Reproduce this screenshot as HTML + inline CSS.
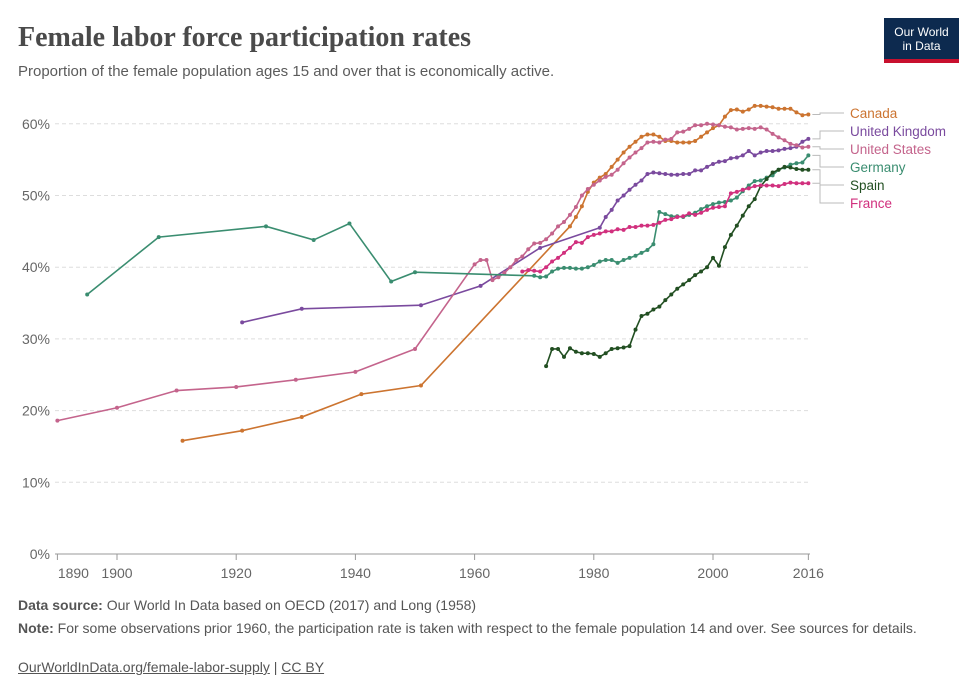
<!DOCTYPE html>
<html><head><meta charset="utf-8"><style>
body{margin:0;background:#fff;font-family:"Liberation Sans",sans-serif;}
#wrap{position:relative;width:980px;height:700px;overflow:hidden;}
.t{position:absolute;white-space:nowrap;}
</style></head><body>
<div id="wrap">
<div class="t" style="left:18px;top:22px;font-family:'Liberation Serif',serif;font-weight:bold;font-size:28px;color:#4a4a4a;">Female labor force participation rates</div>
<div class="t" style="left:18px;top:63px;font-size:15px;color:#5b5b5b;">Proportion of the female population ages 15 and over that is economically active.</div>
<div style="position:absolute;left:884px;top:18px;width:75px;height:45px;background:#0d2a4f;border-bottom:4px solid #c8102e;box-sizing:border-box;color:#fff;font-size:12px;line-height:14px;text-align:center;padding-top:7px;">Our World<br>in Data</div>
<svg id="chart" width="980" height="700" style="position:absolute;left:0;top:0;"></svg>
<div class="t" style="left:18px;top:597px;font-size:14px;color:#555;"><b>Data source:</b> Our World In Data based on OECD (2017) and Long (1958)</div>
<div class="t" style="left:18px;top:619px;font-size:14px;color:#555;white-space:normal;width:915px;line-height:19px;"><b>Note:</b> For some observations prior 1960, the participation rate is taken with respect to the female population 14 and over. See sources for details.</div>
<div class="t" style="left:18px;top:659px;font-size:14px;color:#555;"><u>OurWorldInData.org/female-labor-supply</u> | <u>CC BY</u></div>
</div>
<script>
const yTicks=[0,10,20,30,40,50,60];
const xTicks=[1890,1900,1920,1940,1960,1980,2000,2016];
const seriesNames=["Canada","United Kingdom","United States","Germany","Spain","France"];
const seriesColors=["#cc7430","#7a4a9e","#c4648c","#3a8d70","#224f22","#d1307e"];
const canadaYears=[1911,1921,1931,1941,1951,1976,1977,1978,1979,1980,1981,1982,1983,1984,1985,1986,1987,1988,1989,1990,1991,1992,1993,1994,1995,1996,1997,1998,1999,2000,2001,2002,2003,2004,2005,2006,2007,2008,2009,2010,2011,2012,2013,2014,2015,2016];
const canadaValues=[15.8,17.2,19.1,22.3,23.5,45.7,47,48.5,50.5,51.8,52.5,53,54,55,56,56.8,57.5,58.2,58.5,58.5,58.2,57.6,57.6,57.4,57.4,57.4,57.6,58.2,58.8,59.4,59.8,61,61.9,62,61.7,62,62.5,62.5,62.4,62.3,62.1,62.1,62.1,61.6,61.2,61.3];
const ukYears=[1921,1931,1951,1961,1971,1981,1982,1983,1984,1985,1986,1987,1988,1989,1990,1991,1992,1993,1994,1995,1996,1997,1998,1999,2000,2001,2002,2003,2004,2005,2006,2007,2008,2009,2010,2011,2012,2013,2014,2015,2016];
const ukValues=[32.3,34.2,34.7,37.4,42.7,45.5,47,48,49.3,50,50.8,51.5,52.1,53,53.2,53.1,53,52.9,52.9,53,53,53.5,53.5,54,54.4,54.7,54.8,55.2,55.3,55.6,56.2,55.6,56,56.2,56.2,56.3,56.5,56.6,56.8,57.5,57.9];
const usYears=[1890,1900,1910,1920,1930,1940,1950,1960,1961,1962,1963,1964,1965,1966,1967,1968,1969,1970,1971,1972,1973,1974,1975,1976,1977,1978,1979,1980,1981,1982,1983,1984,1985,1986,1987,1988,1989,1990,1991,1992,1993,1994,1995,1996,1997,1998,1999,2000,2001,2002,2003,2004,2005,2006,2007,2008,2009,2010,2011,2012,2013,2014,2015,2016];
const usValues=[18.6,20.4,22.8,23.3,24.3,25.4,28.6,40.4,41,41,38.2,38.6,39.2,40,41,41.5,42.5,43.3,43.4,43.9,44.7,45.7,46.3,47.3,48.4,50,50.9,51.5,52.1,52.6,52.9,53.6,54.5,55.3,56,56.6,57.4,57.5,57.4,57.8,57.9,58.8,58.9,59.3,59.8,59.8,60,59.9,59.8,59.6,59.5,59.2,59.3,59.4,59.3,59.5,59.2,58.6,58.1,57.7,57.2,57,56.7,56.8];
const deYears=[1895,1907,1925,1933,1939,1946,1950,1970,1971,1972,1973,1974,1975,1976,1977,1978,1979,1980,1981,1982,1983,1984,1985,1986,1987,1988,1989,1990,1991,1992,1993,1994,1995,1996,1997,1998,1999,2000,2001,2002,2003,2004,2005,2006,2007,2008,2009,2010,2011,2012,2013,2014,2015,2016];
const deValues=[36.2,44.2,45.7,43.8,46.1,38,39.3,38.8,38.6,38.7,39.4,39.8,39.9,39.9,39.8,39.8,40,40.3,40.8,41,41,40.6,41,41.3,41.6,42,42.4,43.2,47.7,47.4,47.1,47.1,47,47.3,47.6,48.1,48.5,48.8,49,49.1,49.3,49.7,50.6,51.4,52,52.1,52.5,52.8,53.6,53.9,54.3,54.5,54.6,55.6];
const esYears=[1972,1973,1974,1975,1976,1977,1978,1979,1980,1981,1982,1983,1984,1985,1986,1987,1988,1989,1990,1991,1992,1993,1994,1995,1996,1997,1998,1999,2000,2001,2002,2003,2004,2005,2006,2007,2008,2009,2010,2011,2012,2013,2014,2015,2016];
const esValues=[26.2,28.6,28.6,27.5,28.7,28.2,28,28,27.9,27.5,28,28.6,28.7,28.8,29,31.3,33.2,33.5,34.1,34.5,35.4,36.2,37,37.6,38.2,38.9,39.4,40,41.3,40.2,42.8,44.5,45.8,47.2,48.5,49.5,51.3,52.3,53.2,53.6,54,53.9,53.7,53.6,53.6];
const frYears=[1968,1969,1970,1971,1972,1973,1974,1975,1976,1977,1978,1979,1980,1981,1982,1983,1984,1985,1986,1987,1988,1989,1990,1991,1992,1993,1994,1995,1996,1997,1998,1999,2000,2001,2002,2003,2004,2005,2006,2007,2008,2009,2010,2011,2012,2013,2014,2015,2016];
const frValues=[39.4,39.6,39.5,39.4,40,40.8,41.3,42,42.7,43.5,43.4,44.2,44.5,44.7,45,45,45.3,45.2,45.6,45.6,45.8,45.8,45.9,46.2,46.6,46.7,47,47.1,47.5,47.3,47.6,48,48.3,48.4,48.5,50.3,50.5,50.8,51,51.3,51.4,51.4,51.4,51.3,51.6,51.8,51.7,51.7,51.7];

const svg=document.getElementById('chart');
const NS='http://www.w3.org/2000/svg';
const xS=y=>117+(y-1900)*5.96;
const yS=v=>554-v*7.17;
function mk(tag,attrs){const e=document.createElementNS(NS,tag);for(const k in attrs)e.setAttribute(k,attrs[k]);svg.appendChild(e);return e;}
yTicks.forEach(v=>{
  const l=mk('line',{x1:55,x2:810,y1:yS(v),y2:yS(v),stroke:v===0?'#999':'#ddd','stroke-dasharray':v===0?'':'4,3'});
  
  
  const t=mk('text',{x:50,y:yS(v)+5,'text-anchor':'end','font-size':14,fill:'#666','font-family':'Liberation Sans, sans-serif'});
  t.textContent=v+'%';
  
  
});
xTicks.forEach(v=>{
  const l=mk('line',{x1:xS(v),x2:xS(v),y1:554,y2:560,stroke:'#999'});
  
  
  const t=mk('text',{x:v===1890?xS(v)+16:xS(v),y:578,'text-anchor':'middle','font-size':14,fill:'#666','font-family':'Liberation Sans, sans-serif'});
  t.textContent=v;
  
  
});
const allYears=[canadaYears,ukYears,usYears,deYears,esYears,frYears];
const allValues=[canadaValues,ukValues,usValues,deValues,esValues,frValues];
const labelY=[118,136,154,172,190,208];
allYears.forEach((yrs,i)=>{
  const vals=allValues[i];const c=seriesColors[i];
  const p=mk('polyline',{points:yrs.map((y,j)=>xS(y)+','+yS(vals[j])).join(' '),fill:'none',stroke:c,'stroke-width':1.6});
  
  
  yrs.forEach((y,j)=>{
    const d=mk('circle',{cx:xS(y),cy:yS(vals[j]),r:2,fill:c});
    
    
  });
  const ex=xS(yrs[yrs.length-1]),ey=yS(vals[vals.length-1]);
  const cn=mk('polyline',{points:`${ex+4},${ey} 820,${ey} 820,${labelY[i]-5} 844,${labelY[i]-5}`,fill:'none',stroke:'#bbb','stroke-width':1});
  
  
  const t=mk('text',{x:850,y:labelY[i],'font-size':13.5,fill:c,'font-family':'Liberation Sans, sans-serif'});
  t.textContent=seriesNames[i];
  
  
});
</script>
</body></html>
